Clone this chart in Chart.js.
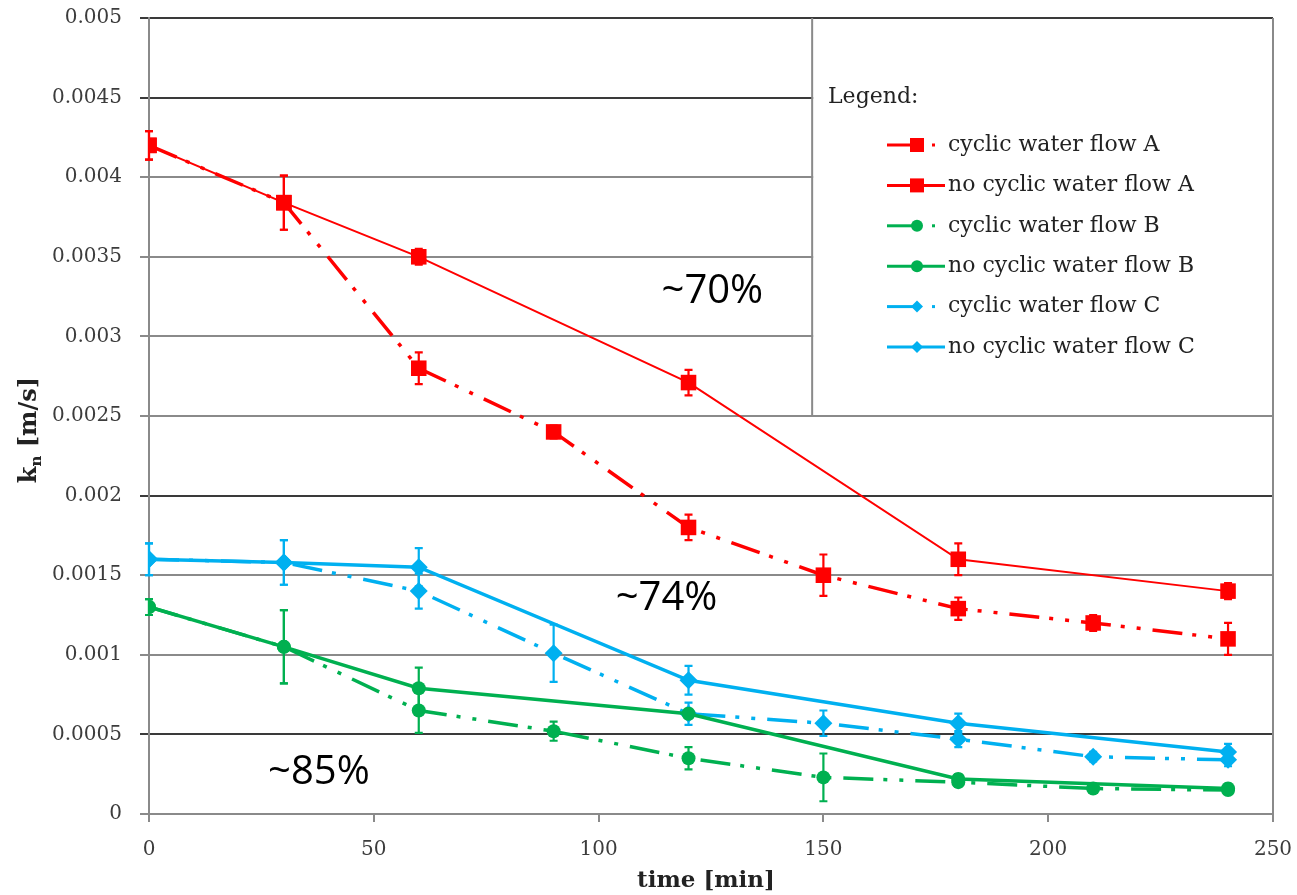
<!DOCTYPE html>
<html>
<head>
<meta charset="utf-8">
<script src="https://cdn.jsdelivr.net/npm/chart.js@4/dist/chart.umd.min.js"></script>
<style>
  html, body { margin: 0; background: #fff; }
  #wrap { width: 1297px; height: 895px; position: relative; }
</style>
</head>
<body>
<div id="wrap"><canvas id="chart"></canvas></div>
<script>
// time points (min)
const timesCyclic = [0, 30, 60, 90, 120, 150, 180, 210, 240];
const timesNoCyclic = [0, 30, 60, 120, 180, 240];

// k_n [m/s] and error (±)
const cyclicA      = [0.0042, 0.00384, 0.0028, 0.0024, 0.0018, 0.0015, 0.00129, 0.0012, 0.0011];
const cyclicAErr   = [0.00009, 0.00017, 0.0001, 0.00004, 0.00008, 0.00013, 0.00007, 0.00005, 0.0001];
const noCyclicA    = [0.0042, 0.00384, 0.0035, 0.00271, 0.0016, 0.0014];
const noCyclicAErr = [0.00009, 0.00017, 0.00005, 0.00008, 0.0001, 0.00005];

const cyclicB      = [0.0013, 0.00105, 0.00065, 0.00052, 0.00035, 0.00023, 0.0002, 0.00016, 0.00015];
const cyclicBErr   = [0.00005, 0.00023, 0.00014, 0.00006, 0.00007, 0.00015, 0.00003, 0.00002, 0.00002];
const noCyclicB    = [0.0013, 0.00105, 0.00079, 0.00063, 0.00022, 0.00016];
const noCyclicBErr = [0.00005, 0.00023, 0.00013, 0.00003, 0.00003, 0.00003];

const cyclicC      = [0.0016, 0.00158, 0.0014, 0.00101, 0.00063, 0.00057, 0.00047, 0.00036, 0.00034];
const cyclicCErr   = [0.0001, 0.00014, 0.00011, 0.00018, 0.00007, 0.00008, 0.00005, 0.00003, 0.00004];
const noCyclicC    = [0.0016, 0.00158, 0.00155, 0.00084, 0.00057, 0.00039];
const noCyclicCErr = [0.0001, 0.00014, 0.00012, 0.00009, 0.00006, 0.00005];

// reduction notes, placed in data coordinates
const notes = [
  { text: '~70%', x: 125.3, y: 0.00328 },
  { text: '~74%', x: 115.1, y: 0.00135 },
  { text: '~85%', x: 37.8,  y: 0.00026 }
];

const RED = '#ff0000', GREEN = '#00b050', BLUE = '#00b0f0';
const DASH = [30, 10, 4, 12, 4, 12];
const SERIF = '"DejaVu Serif", "Liberation Serif", serif';

function pts(xs, ys) { return xs.map((x, i) => ({ x: x, y: ys[i] })); }

function series(label, xs, ys, err, color, style, radius, dashed, width) {
  return {
    label: label,
    data: pts(xs, ys),
    err: err,
    borderColor: color,
    backgroundColor: color,
    borderWidth: width,
    borderDash: dashed ? DASH : [],
    dashed: dashed,
    tension: 0,
    pointStyle: style,
    pointRadius: radius,
    pointBackgroundColor: color,
    pointBorderColor: color,
    pointBorderWidth: 0
  };
}

const datasets = [
  series('cyclic water flow A', timesCyclic, cyclicA, cyclicAErr, RED, 'rect', 11, true, 3.5),
  series('no cyclic water flow A', timesNoCyclic, noCyclicA, noCyclicAErr, RED, 'rect', 11, false, 2),
  series('cyclic water flow B', timesCyclic, cyclicB, cyclicBErr, GREEN, 'circle', 7, true, 3.5),
  series('no cyclic water flow B', timesNoCyclic, noCyclicB, noCyclicBErr, GREEN, 'circle', 7, false, 3.5),
  series('cyclic water flow C', timesCyclic, cyclicC, cyclicCErr, BLUE, 'rectRot', 9, true, 3.5),
  series('no cyclic water flow C', timesNoCyclic, noCyclicC, noCyclicCErr, BLUE, 'rectRot', 9, false, 3.5)
];

// error bars, legend box, titles and notes
const extras = {
  id: 'extras',
  beforeDatasetsDraw(chart) {
    const { ctx, chartArea: a, scales: { x, y } } = chart;
    const lx = x.getPixelForValue(147.5), ly = y.getPixelForValue(0.0025);
    ctx.save();
    ctx.fillStyle = '#fff';
    ctx.fillRect(lx + 1, a.top + 1.5, a.right - lx - 1, ly - a.top - 2.5);
    ctx.strokeStyle = '#8a8a8a';
    ctx.lineWidth = 2;
    ctx.beginPath();
    ctx.moveTo(lx, a.top); ctx.lineTo(lx, ly);
    ctx.moveTo(a.right, a.top); ctx.lineTo(a.right, a.bottom);
    ctx.stroke();
    ctx.restore();
  },
  afterDatasetDraw(chart, args) {
    const ds = chart.data.datasets[args.index];
    const meta = args.meta, y = chart.scales.y, ctx = chart.ctx;
    ctx.save();
    ctx.strokeStyle = ds.borderColor;
    ctx.lineWidth = 2.2;
    ctx.setLineDash([]);
    meta.data.forEach((p, i) => {
      const e = ds.err[i];
      const v = ds.data[i].y;
      const y1 = y.getPixelForValue(v + e), y2 = y.getPixelForValue(v - e);
      ctx.beginPath();
      ctx.moveTo(p.x, y1); ctx.lineTo(p.x, y2);
      ctx.moveTo(p.x - 4, y1); ctx.lineTo(p.x + 4, y1);
      ctx.moveTo(p.x - 4, y2); ctx.lineTo(p.x + 4, y2);
      ctx.stroke();
    });
    ctx.restore();
  },
  afterDraw(chart) {
    const { ctx, chartArea: a, scales: { x, y } } = chart;
    ctx.save();

    // legend
    ctx.fillStyle = '#222';
    ctx.font = '22px ' + SERIF;
    ctx.textAlign = 'left';
    ctx.textBaseline = 'middle';
    ctx.fillText('Legend:', 828, 97);
    chart.data.datasets.forEach((ds, i) => {
      const ry = 145 + 40.4 * i;
      ctx.strokeStyle = ds.borderColor;
      ctx.fillStyle = ds.borderColor;
      ctx.lineWidth = 3;
      ctx.setLineDash([]);
      ctx.beginPath();
      ctx.moveTo(887, ry);
      ctx.lineTo(ds.dashed ? 917 : 945, ry);
      ctx.stroke();
      if (ds.dashed) ctx.fillRect(932, ry - 1.5, 3, 3);
      const mx = 917;
      ctx.beginPath();
      if (ds.pointStyle === 'rect') ctx.rect(mx - 7, ry - 7, 14, 14);
      else if (ds.pointStyle === 'circle') ctx.arc(mx, ry, 6, 0, Math.PI * 2);
      else { ctx.moveTo(mx, ry - 6); ctx.lineTo(mx + 6, ry); ctx.lineTo(mx, ry + 6); ctx.lineTo(mx - 6, ry); ctx.closePath(); }
      ctx.fill();
      ctx.fillStyle = '#222';
      ctx.font = '22px ' + SERIF;
      ctx.fillText(ds.label, 948, ry);
    });

    // notes
    ctx.fillStyle = '#000';
    ctx.font = '40px "Open Sans", sans-serif';
    ctx.textAlign = 'center';
    notes.forEach(n => ctx.fillText(n.text, x.getPixelForValue(n.x), y.getPixelForValue(n.y)));

    // x title
    ctx.fillStyle = '#222';
    ctx.font = 'bold 23px ' + SERIF;
    ctx.fillText('time [min]', (a.left + a.right) / 2 - 5, 881);

    // y title with subscript
    ctx.translate(30, 430);
    ctx.rotate(-Math.PI / 2);
    ctx.textAlign = 'left';
    const big = 'bold 24px ' + SERIF, small = 'bold 15px ' + SERIF;
    ctx.font = big; const wk = ctx.measureText('k').width; const wr = ctx.measureText(' [m/s]').width;
    ctx.font = small; const wn = ctx.measureText('n').width;
    let sx = -(wk + wn + wr) / 2;
    ctx.font = big; ctx.fillText('k', sx, 0); sx += wk;
    ctx.font = small; ctx.fillText('n', sx, 7); sx += wn;
    ctx.font = big; ctx.fillText(' [m/s]', sx, 0);
    ctx.restore();
  }
};

const darkLines = [0.005, 0.0045, 0.002, 0.0005];

new Chart(document.getElementById('chart'), {
  type: 'line',
  data: { datasets: datasets },
  options: {
    responsive: true,
    maintainAspectRatio: false,
    animation: false,
    events: [],
    layout: { padding: { left: 0, top: 18, right: 24, bottom: 0 } },
    plugins: { legend: { display: false }, tooltip: { enabled: false } },
    scales: {
      x: {
        type: 'linear', min: 0, max: 250,
        afterFit: s => { s.height = 81; s.paddingLeft = 0; s.paddingRight = 0; },
        ticks: { stepSize: 50, color: '#3c3c3c', padding: 16, font: { family: SERIF, size: 20 } },
        grid: { drawOnChartArea: false, drawTicks: true, tickLength: 8, color: '#8a8a8a', lineWidth: 2 },
        border: { display: true, color: '#8a8a8a', width: 2 }
      },
      y: {
        min: 0, max: 0.005,
        afterFit: s => { s.width = 149; s.paddingTop = 0; s.paddingBottom = 0; },
        ticks: {
          stepSize: 0.0005, color: '#3c3c3c', padding: 18,
          font: { family: SERIF, size: 20 },
          callback: v => String(+(+v).toFixed(4))
        },
        grid: {
          tickLength: 9, lineWidth: 2,
          color: c => darkLines.some(d => Math.abs(d - c.tick.value) < 1e-7) ? '#3a3a3a' : '#8a8a8a'
        },
        border: { display: true, color: '#8a8a8a', width: 2 }
      }
    }
  },
  plugins: [extras]
});
</script>
</body>
</html>
